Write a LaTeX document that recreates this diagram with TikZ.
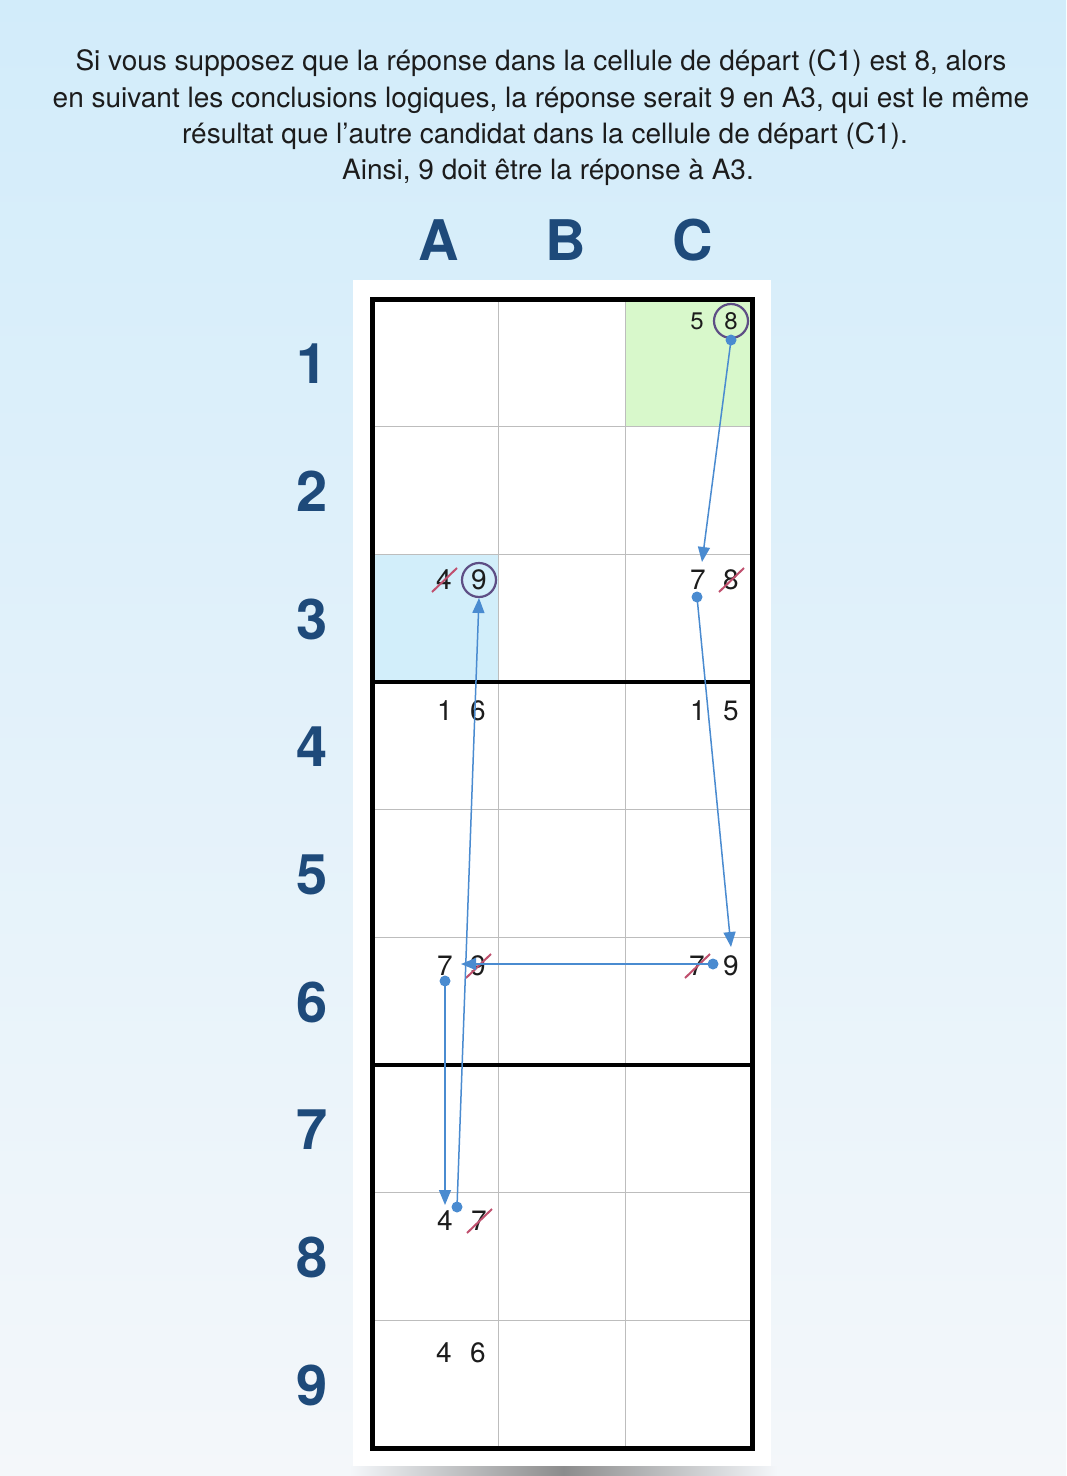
\documentclass[tikz,border=0pt]{standalone}
\usepackage{fontspec}
\setmainfont{TeX Gyre Heros}
\usetikzlibrary{arrows.meta,calc}
\definecolor{bgtop}{HTML}{D2ECFA}
\definecolor{bgbot}{HTML}{F4F7FA}
\definecolor{txt}{HTML}{1C1C1C}
\definecolor{lab}{HTML}{1E4A7A}
\definecolor{gridgray}{HTML}{BDBDBD}
\definecolor{startfill}{HTML}{D8F8CB}
\definecolor{endfill}{HTML}{D2EEFA}
\definecolor{ring}{HTML}{5E4E85}
\definecolor{strk}{HTML}{C0506E}
\definecolor{arr}{HTML}{4A8BD0}
\tikzset{
  hdr/.style={anchor=base, inner sep=0pt, text=txt, font=\fontsize{28bp}{32bp}\selectfont},
  lbl/.style={inner sep=0pt, text=lab, font=\fontsize{56bp}{56bp}\selectfont\bfseries},
  dig/.style={inner sep=0pt, text=txt, font=\fontsize{28bp}{28bp}\selectfont},
  smalldig/.style={inner sep=0pt, text=txt, font=\fontsize{24bp}{24bp}\selectfont},
  ringed/.style={draw=ring, line width=2.2bp, circle, minimum size=34bp},
  strikeline/.style={draw=strk, line width=2bp},
  gridline/.style={draw=gridgray, line width=1.5bp},
  link/.style={draw=arr, line width=1.5bp, -{Triangle[length=15bp,width=12bp]}},
  dot/.style={fill=arr}
}
\newcommand{\strikeit}[1]{\draw[strikeline] ($(#1)+(-12,12)$) -- ($(#1)+(13,-12)$);}
\begin{document}
\begin{tikzpicture}[x=1bp,y=-1bp]
\useasboundingbox (0,0) rectangle (1066,1476);
\shade[top color=bgtop, bottom color=bgbot] (0,0) rectangle (1066,1476);
% header
\node[hdr] (t1) at (541,71) {Si vous supposez que la réponse dans la cellule de départ (C1) est 8, alors};
\node[hdr] (t2) at (541,108) {en suivant les conclusions logiques, la réponse serait 9 en A3, qui est le même};
\node[hdr] (t3) at (545,144) {résultat que l’autre candidat dans la cellule de départ (C1).};
\node[hdr] (t4) at (548,180) {Ainsi, 9 doit être la réponse à A3.};
% column labels
\node[lbl] (cA) at (439,240) {A};
\node[lbl] (cB) at (566,240) {B};
\node[lbl] (cC) at (693,240) {C};
% row labels
\foreach \r in {1,...,9} {
  \node[lbl] (r\r) at (312,{299+(\r-0.5)*127.67+1}) {\r};
}
% panel and shadow
\shade[left color=bgbot, right color=bgbot, middle color=black!45] (350,1466) rectangle (777,1476);
\fill[white] (353,280) rectangle (771,1466);
% cell fills
\fill[startfill] (625.3,299) rectangle (752,426.7);
\fill[endfill] (372,554.3) rectangle (498.7,682);
% thin lines
\foreach \x in {498.7,625.3} \draw[gridline] (\x,299) -- (\x,1448);
\foreach \i in {1,2,4,5,7,8} \draw[gridline] (372,{299+\i*127.67}) -- (752,{299+\i*127.67});
% thick lines
\draw[black, line width=4bp] (372,682) -- (752,682);
\draw[black, line width=4bp] (372,1065) -- (752,1065);
\draw[black, line width=5bp] (372,299) rectangle (752,1448);
% digits
\node[smalldig] (c1a) at (697,321) {5};
\node[smalldig] (c1b) at (731,321) {8};
\node[dig] (c3a) at (698,580) {7};
\node[dig] (c3b) at (731,580) {8};
\node[dig] (a3a) at (444,580) {4};
\node[dig] (a3b) at (479,580) {9};
\node[dig] (a4a) at (445,711) {1};
\node[dig] (a4b) at (478,711) {6};
\node[dig] (c4a) at (698,711) {1};
\node[dig] (c4b) at (731,711) {5};
\node[dig] (a6a) at (445,966) {7};
\node[dig] (a6b) at (478,966) {9};
\node[dig] (c6a) at (697,966) {7};
\node[dig] (c6b) at (731,966) {9};
\node[dig] (a8a) at (445,1221) {4};
\node[dig] (a8b) at (479,1221) {7};
\node[dig] (a9a) at (444,1353) {4};
\node[dig] (a9b) at (478,1353) {6};
% rings
\node[ringed] (ring1) at (c1b) {};
\node[ringed] (ring2) at (a3b) {};
% strikes
\strikeit{c3b}
\strikeit{a3a}
\strikeit{a6b}
\strikeit{c6a}
\strikeit{a8b}
% connectors
\coordinate (s1) at (731,340); \coordinate (e1) at (702,562);
\coordinate (s2) at (697,597); \coordinate (e2) at (731,947);
\coordinate (s3) at (713,964); \coordinate (e3) at (461,964);
\coordinate (s4) at (445,981); \coordinate (e4) at (445,1205);
\coordinate (s5) at (457,1207); \coordinate (e5) at (479,598);
\foreach \k in {1,...,5} {
  \draw[link] (s\k) -- (e\k);
  \fill[dot] (s\k) circle (5.5);
}
\end{tikzpicture}
\end{document}
